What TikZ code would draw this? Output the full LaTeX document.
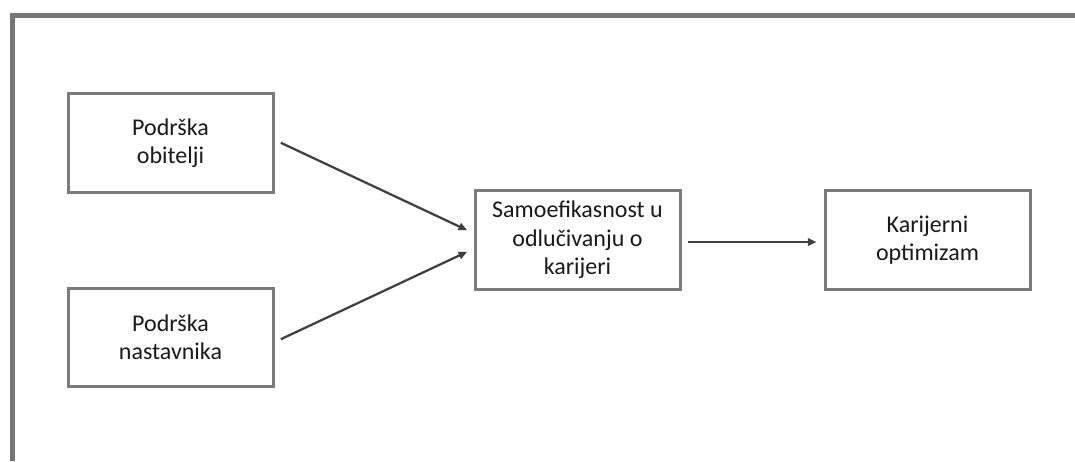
\documentclass[tikz,border=0pt]{standalone}
\usepackage{fontspec}
\setmainfont{Carlito}
\usetikzlibrary{arrows.meta, positioning}
\definecolor{frame}{HTML}{767676}
\definecolor{boxline}{HTML}{7B7B7B}
\definecolor{arrowc}{HTML}{404040}

\begin{document}
\begin{tikzpicture}[x=0.75pt, y=-0.75pt,
    var/.style={draw=boxline, line width=2.25pt, minimum width=153.75pt,
      minimum height=74pt, inner sep=0pt, align=center, text=black!90,
      font=\fontsize{18}{21.3}\selectfont},
    arr/.style={arrowc, line width=1.7pt, -{Triangle[length=6.5pt, width=5.5pt]},
      shorten <=5.2pt, shorten >=5.2pt}]
  \useasboundingbox (0,0) rectangle (1075,461);
  % outer frame (top and left only)
  \draw[frame, line width=3.75pt] (12,461) -- (12,15.5) -- (1075,15.5);
  % variables
  \node[var] (obitelj) at (170.5,143) {Podrška\\obitelji};
  \node[var] (nastavnik) at (170.5,337.5) {Podrška\\nastavnika};
  \node[var] (samoef) at (577.5,240) {Samoefikasnost u\\odlučivanju o\\karijeri};
  \node[var] (optim) at (927.5,240) {Karijerni\\optimizam};
  % paths
  \draw[arr] ([yshift=2.4pt]obitelj.east) -- ([yshift=5.1pt]samoef.west);
  \draw[arr] ([yshift=-3.5pt]nastavnik.east) -- ([yshift=-6.6pt]samoef.west);
  \draw[arr] ([yshift=-1.5pt]samoef.east) -- ([yshift=-1.5pt]optim.west);
\end{tikzpicture}
\end{document}
